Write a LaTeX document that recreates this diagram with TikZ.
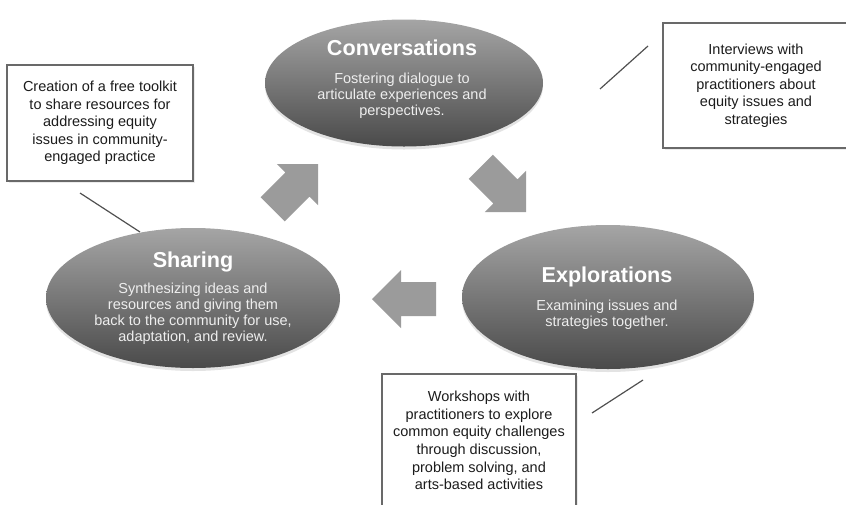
\documentclass[tikz,border=0pt]{standalone}
\usepackage{fontspec}
\setmainfont{Liberation Sans}
\usetikzlibrary{shapes.geometric,shadows}

\definecolor{arrowgray}{RGB}{155,155,155}
\definecolor{ovaltop}{RGB}{165,165,165}
\definecolor{ovalbot}{RGB}{74,74,74}
\definecolor{boxline}{RGB}{105,105,105}
\definecolor{boxtext}{RGB}{28,28,28}
\definecolor{ovaltext}{RGB}{238,238,238}
\definecolor{leader}{RGB}{80,80,80}

% block arrow pointing along +x with its tip at the origin
\newcommand{\blockarrow}{%
  \fill[arrowgray] (0,0) -- (-29,-29) -- (-29,-17) -- (-64,-17)
    -- (-64,17) -- (-29,17) -- (-29,29) -- cycle;}

\begin{document}
\begin{tikzpicture}[x=1pt,y=-1pt,
  oval/.style={ellipse, inner sep=0pt, draw=none,
    top color=ovaltop, bottom color=ovalbot,
    drop shadow={opacity=0.22, shadow xshift=0pt, shadow yshift=-3pt}},
  ovaltitle/.style={text=white, font=\fontsize{21.6}{24}\selectfont\bfseries},
  ovalbody/.style={text=ovaltext, align=center, font=\fontsize{14.5}{16}\selectfont},
  notebox/.style={rectangle, draw=boxline, line width=1.3pt, fill=white,
    inner sep=0pt, align=center, text=boxtext,
    font=\fontsize{14.5}{17.6}\selectfont,
    drop shadow={opacity=0.15, shadow xshift=2pt, shadow yshift=-2pt}},
  leaderline/.style={draw=leader, line width=1.2pt}
]
\useasboundingbox (0,0) rectangle (846,504);
\clip (0,0) rectangle (846,504);

% the three stages of the cycle
\node[oval, minimum width=278pt, minimum height=127pt] (conv) at (404,83) {};
\node[oval, minimum width=294pt, minimum height=140pt] (share) at (193,298) {};
\node[oval, minimum width=292pt, minimum height=144pt] (expl) at (608,297) {};

\node[ovaltitle] (convT) at (402,48) {Conversations};
\node[ovalbody] (convB) at (402,96) {Fostering dialogue to\\articulate experiences and\\perspectives.};

\node[ovaltitle] (shareT) at (193,262) {Sharing};
\node[ovalbody] (shareB) at (193,313.5) {Synthesizing ideas and\\resources and giving them\\back to the community for use,\\adaptation, and review.};

\node[ovaltitle] (explT) at (607,277) {Explorations};
\node[ovalbody] (explB) at (607,314.5) {Examining issues and\\strategies together.};

% block arrows between the stages
\begin{scope}[shift={(318,164)}, rotate=45]\blockarrow\end{scope}
\begin{scope}[shift={(526,212)}, rotate=-45]\blockarrow\end{scope}
\begin{scope}[shift={(372,299)}, rotate=180]\blockarrow\end{scope}

% notes attached to each stage
\node[notebox, minimum width=186pt, minimum height=116pt] (noteL) at (100,123)
  {Creation of a free toolkit\\to share resources for\\addressing equity\\issues in community-\\engaged practice};
\node[notebox, minimum width=186pt, minimum height=125pt] (noteR) at (756,85.5)
  {Interviews with\\community-engaged\\practitioners about\\equity issues and\\strategies};
\node[notebox, minimum width=194pt, minimum height=133pt] (noteB) at (479,440.5)
  {Workshops with\\practitioners to explore\\common equity challenges\\through discussion,\\problem solving, and\\arts-based activities};

% leader lines
\coordinate (lA) at (80,193);
\coordinate (lB) at (140,232);
\coordinate (rA) at (648,46);
\coordinate (rB) at (600,89);
\coordinate (bA) at (643,380);
\coordinate (bB) at (592,413);
\draw[leaderline] (lA) -- (lB);
\draw[leaderline] (rA) -- (rB);
\draw[leaderline] (bA) -- (bB);
\end{tikzpicture}
\end{document}
